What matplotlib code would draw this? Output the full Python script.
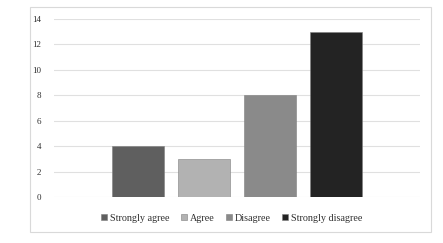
import matplotlib
matplotlib.use("Agg")
import matplotlib.pyplot as plt
from matplotlib.patches import Rectangle

# Chart data
categories = ["Strongly agree", "Agree", "Disagree", "Strongly disagree"]
counts = [4, 3, 8, 13]
colors = ["#5f5f5f", "#b2b2b2", "#8a8a8a", "#232323"]
y_ticks = [0, 2, 4, 6, 8, 10, 12, 14]

W, H = 443, 243
plt.rcParams['font.family'] = ['Liberation Serif', 'DejaVu Serif']

fig = plt.figure(figsize=(W / 100, H / 100), dpi=100)

# Outer chart border
fig.patches.append(Rectangle((30 / W, 1 - 232 / H), 401 / W, 225 / H,
                             transform=fig.transFigure, fill=False,
                             edgecolor="#d9d9d9", linewidth=0.8))

ax = fig.add_axes([54 / W, 1 - 197 / H, 366 / W, 178 / H])
positions = list(range(len(categories)))
for pos, val, col, lab in zip(positions, counts, colors, categories):
    ax.bar(pos, val, width=52 / 66, color=col, edgecolor="#7f7f7f",
           linewidth=0.4, label=lab, zorder=3)

half = 183 / 66
ax.set_xlim(1.5 - half, 1.5 + half)
ax.set_ylim(0, 14)
ax.set_yticks(y_ticks)
ax.set_xticks([])
ax.tick_params(axis="y", length=0, pad=9, labelsize=6.5, colors="#303030")
ax.yaxis.grid(True, color="#e0e0e0", linewidth=0.8, zorder=0)
for s in ax.spines.values():
    s.set_visible(False)

fig.legend(loc="center", bbox_to_anchor=(232 / W, 1 - 218 / H), ncol=4,
           frameon=False, fontsize=7.3, handlelength=0.6, handleheight=0.6,
           handletextpad=0.3, columnspacing=1.1, labelcolor="#303030")

fig.savefig("out.png", dpi=100)
